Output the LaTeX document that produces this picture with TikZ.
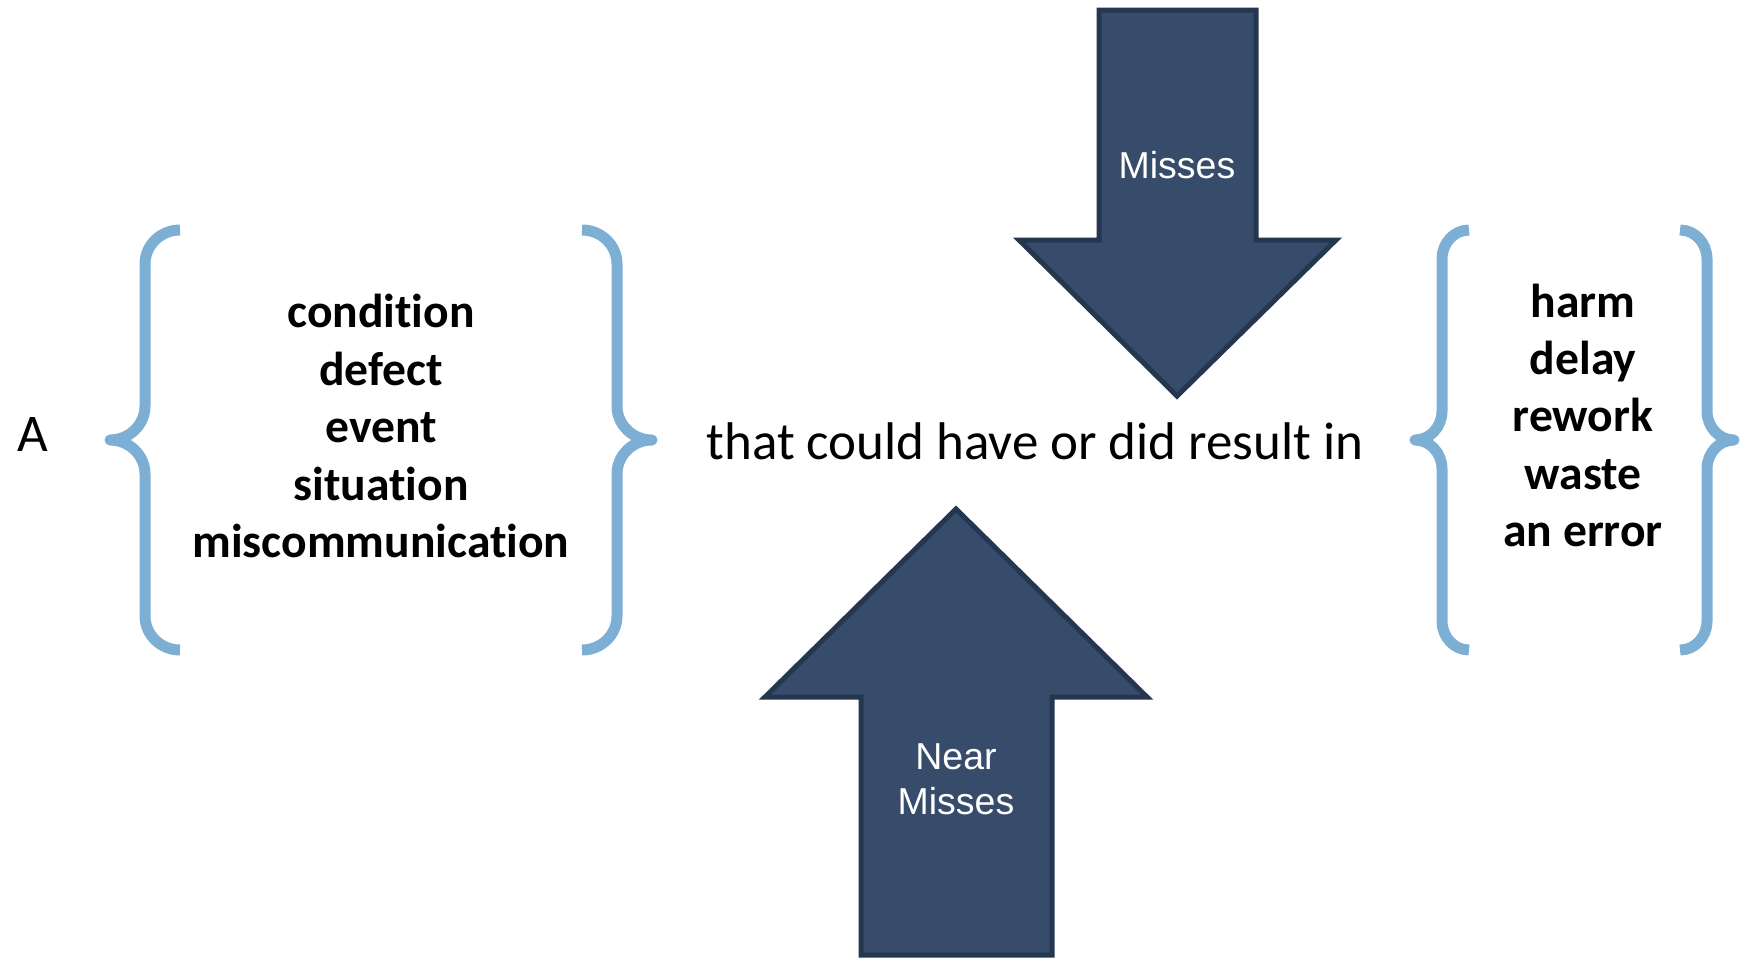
\documentclass[tikz,border=0pt]{standalone}
\usepackage{fontspec}
\setmainfont{Carlito}[Ligatures=NoCommon]
\newfontfamily\arialfont{Liberation Sans}
\definecolor{braceblue}{RGB}{125,175,212}
\definecolor{arrowfill}{RGB}{55,76,106}
\definecolor{arrowline}{RGB}{36,54,80}
% #1 x of vertical stroke, #2 horizontal radius (negative for a closing brace),
% #3 vertical radius, #4 top y, #5 middle y, #6 bottom y
\newcommand\BraceShape[6]{%
  \draw[bracestroke]
    ({#1+#2},#4) .. controls ({#1+0.448*#2},#4) and (#1,{#4+0.448*#3}) .. (#1,{#4+#3})
    -- (#1,{#5-#3}) .. controls (#1,{#5-0.448*#3}) and ({#1-0.448*#2},#5) .. ({#1-#2},#5)
    .. controls ({#1-0.448*#2},#5) and (#1,{#5+0.448*#3}) .. (#1,{#5+#3})
    -- (#1,{#6-#3}) .. controls (#1,{#6-0.448*#3}) and ({#1+0.448*#2},#6) .. ({#1+#2},#6);}
\begin{document}
\begin{tikzpicture}[x=1pt,y=-1pt,
  bracestroke/.style={draw=braceblue,line width=11pt,line cap=butt,line join=round},
  blockarrow/.style={fill=arrowfill,draw=arrowline,line width=5pt,line join=miter},
  listtext/.style={font=\fontsize{47.6}{57.5}\selectfont\bfseries,anchor=base,inner sep=0pt},
  plaintext/.style={font=\fontsize{53}{64}\selectfont,anchor=base,inner sep=0pt},
  arrowtext/.style={font=\arialfont\fontsize{37.5}{45}\selectfont,text=white,align=center,inner sep=0pt}]
\useasboundingbox (0,0) rectangle (1743,959);

% block arrows
\draw[blockarrow] (1099,10) -- (1256,10) -- (1256,240) -- (1336,240) -- (1177,396)
  -- (1019,240) -- (1099,240) -- cycle;
\draw[blockarrow] (956,509) -- (1147,697) -- (1052,697) -- (1052,955) -- (861,955)
  -- (861,697) -- (765,697) -- cycle;
\node[arrowtext,anchor=base] (misses) at (1177,178) {Misses};
\node[arrowtext] (nearmisses) at (956,779) {Near\\Misses};

% braces
\BraceShape{145}{35}{34}{230}{440}{650}
\BraceShape{617}{-35}{34}{230}{440}{650}
\BraceShape{1442}{27}{29}{230}{440}{650}
\BraceShape{1707}{-27}{29}{230}{440}{650}

% texts
\node[plaintext] (a) at (33,451) {A};
\node[plaintext] (mid) at (1035,459) {that could have or did result in};

\node[listtext] (l1) at (381,327) {condition};
\node[listtext] (l2) at (381,385) {defect};
\node[listtext] (l3) at (381,442) {event};
\node[listtext] (l4) at (381,500) {situation};
\node[listtext] (l5) at (381,557) {miscommunication};

\node[listtext] (r1) at (1583,317) {harm};
\node[listtext] (r2) at (1583,374) {delay};
\node[listtext] (r3) at (1583,431) {rework};
\node[listtext] (r4) at (1583,489) {waste};
\node[listtext] (r5) at (1583,546) {an error};
\end{tikzpicture}
\end{document}
